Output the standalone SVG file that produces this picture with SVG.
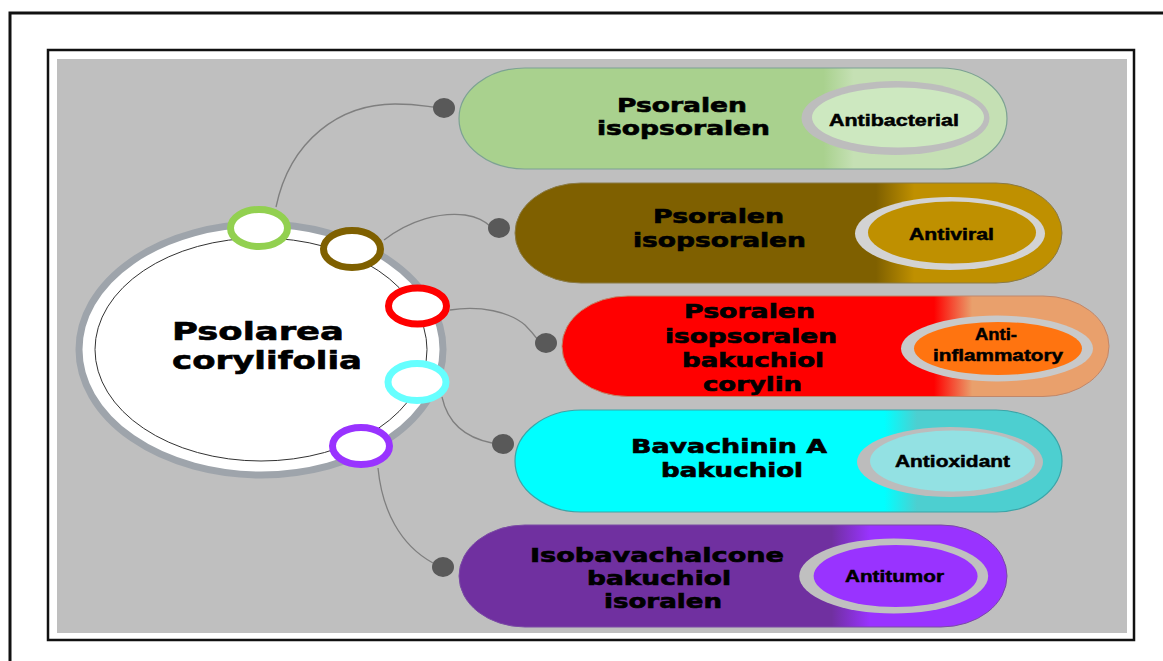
<svg xmlns="http://www.w3.org/2000/svg" width="1163" height="661" viewBox="0 0 1163 661">
<defs>
<linearGradient id="g1" x1="0" y1="0" x2="1" y2="0"><stop offset="0.665" stop-color="#a9d18e"/><stop offset="0.72" stop-color="#c5e0b4"/></linearGradient>
<linearGradient id="g2" x1="0" y1="0" x2="1" y2="0"><stop offset="0.66" stop-color="#7f6000"/><stop offset="0.73" stop-color="#bf9000"/></linearGradient>
<linearGradient id="g3" x1="0" y1="0" x2="1" y2="0"><stop offset="0.68" stop-color="#ff0000"/><stop offset="0.75" stop-color="#e9a06c"/></linearGradient>
<linearGradient id="g4" x1="0" y1="0" x2="1" y2="0"><stop offset="0.675" stop-color="#00ffff"/><stop offset="0.735" stop-color="#4dcfd0"/></linearGradient>
<linearGradient id="g5" x1="0" y1="0" x2="1" y2="0"><stop offset="0.68" stop-color="#7030a0"/><stop offset="0.75" stop-color="#9933ff"/></linearGradient>
</defs>
<style>
.frame{fill:none;stroke:#111;}
.ring{fill:#fff;stroke-width:7;}
.dot{fill:#595959;}
.conn{fill:none;stroke:#7f7f7f;stroke-width:1.3;}
.big{font-family:"DejaVu Sans","Liberation Sans",sans-serif;font-weight:bold;fill:#000;stroke:#000;stroke-width:0.6;}
.lab{font-family:"Liberation Sans",Arial,sans-serif;font-weight:bold;font-size:17px;fill:#000;stroke:#000;stroke-width:0.5;}
.pt{font-size:19px;}
</style>
<rect x="10" y="13" width="1170" height="670" class="frame" stroke-width="3"/>
<rect x="48" y="50" width="1086" height="590" class="frame" stroke-width="2.5"/>
<rect x="57" y="59" width="1070" height="574" fill="#bfbfbf"/>

<g id="connectors">
<path class="conn" d="M276,207 C290,140 340,104 395,104 C415,104 425,106 434,107"/>
<path class="conn" d="M384,240 C410,220 440,212 465,215 C478,217 484,221 490,226"/>
<path class="conn" d="M450,310 C480,305 510,312 525,325 C531,331 535,336 538,340"/>
<path class="conn" d="M442,397 C447,420 462,437 492,443"/>
<path class="conn" d="M378,468 C382,510 400,545 433,563"/>
<ellipse class="dot" cx="444" cy="108" rx="11" ry="10"/>
<ellipse class="dot" cx="499" cy="228" rx="11" ry="10"/>
<ellipse class="dot" cx="546" cy="343" rx="11" ry="10"/>
<ellipse class="dot" cx="503" cy="444" rx="11" ry="10"/>
<ellipse class="dot" cx="443" cy="567" rx="11" ry="10"/>
</g>

<g id="center">
<ellipse cx="261" cy="349.5" rx="182" ry="125.5" fill="#fff" stroke="#9ea4ab" stroke-width="7"/>
<ellipse cx="261" cy="349.5" rx="166" ry="111.5" fill="#fff" stroke="#333" stroke-width="1"/>
<text class="big" x="172" y="340" font-size="25" textLength="172" lengthAdjust="spacingAndGlyphs" stroke-width="1">Psolarea</text>
<text class="big" x="172" y="368.5" font-size="25" textLength="190" lengthAdjust="spacingAndGlyphs" stroke-width="1">corylifolia</text>
</g>

<g id="rings">
<ellipse class="ring" cx="259" cy="228" rx="28.5" ry="18.5" stroke="#92d050"/>
<ellipse class="ring" cx="352" cy="249" rx="28.5" ry="18.5" stroke="#7f6000"/>
<ellipse class="ring" cx="417.5" cy="306" rx="29" ry="18" stroke="#ff0000"/>
<ellipse class="ring" cx="417" cy="382" rx="29" ry="18.5" stroke="#66ffff"/>
<ellipse class="ring" cx="361" cy="446" rx="28.5" ry="18.5" stroke="#9933ff"/>
</g>

<g id="antibacterial">
<rect x="459" y="68" width="548" height="101" rx="66" ry="50.5" fill="url(#g1)" stroke="#7da293" stroke-width="1.2"/>
<ellipse cx="895.5" cy="118" rx="94" ry="37" fill="#bdbdbd"/>
<ellipse cx="898" cy="117.5" rx="86" ry="30" fill="#cde8c0"/>
<text class="big pt" x="617" y="112" textLength="130" lengthAdjust="spacingAndGlyphs">Psoralen</text>
<text class="big pt" x="597" y="135" textLength="173" lengthAdjust="spacingAndGlyphs">isopsoralen</text>
<text class="lab" x="829" y="125.5" textLength="130" lengthAdjust="spacingAndGlyphs">Antibacterial</text>
</g>

<g id="antiviral">
<rect x="515" y="183" width="547" height="100" rx="66" ry="50" fill="url(#g2)" stroke="#8a7a45" stroke-width="1"/>
<ellipse cx="950" cy="233.5" rx="95" ry="36.5" fill="#d3d3d3"/>
<ellipse cx="952" cy="232.5" rx="84" ry="31" fill="#bf9000"/>
<text class="big pt" x="653" y="222.7" textLength="131" lengthAdjust="spacingAndGlyphs">Psoralen</text>
<text class="big pt" x="633" y="246.7" textLength="173" lengthAdjust="spacingAndGlyphs">isopsoralen</text>
<text class="lab" x="909" y="239.5" textLength="85" lengthAdjust="spacingAndGlyphs">Antiviral</text>
</g>

<g id="antiinflammatory">
<rect x="562" y="296" width="547" height="100.5" rx="66" ry="50" fill="url(#g3)" stroke="#c0876a" stroke-width="1"/>
<ellipse cx="997" cy="348.5" rx="96" ry="33" fill="#c9c9c9"/>
<ellipse cx="998" cy="348.5" rx="84" ry="26.5" fill="#ff7410"/>
<text class="big pt" x="684" y="318.3" textLength="131" lengthAdjust="spacingAndGlyphs">Psoralen</text>
<text class="big pt" x="665" y="343" textLength="172" lengthAdjust="spacingAndGlyphs">isopsoralen</text>
<text class="big pt" x="682" y="366.7" textLength="142" lengthAdjust="spacingAndGlyphs">bakuchiol</text>
<text class="big pt" x="703" y="391.3" textLength="99" lengthAdjust="spacingAndGlyphs">corylin</text>
<text class="lab" x="975" y="340" textLength="42" lengthAdjust="spacingAndGlyphs">Anti-</text>
<text class="lab" x="933" y="361" textLength="130" lengthAdjust="spacingAndGlyphs">inflammatory</text>
</g>

<g id="antioxidant">
<rect x="515" y="410" width="547" height="102" rx="66" ry="51" fill="url(#g4)" stroke="#3aa5a8" stroke-width="1.2"/>
<ellipse cx="950" cy="462" rx="93" ry="35" fill="#bcbcbc"/>
<ellipse cx="952.5" cy="461" rx="82.5" ry="30.5" fill="#93e1e3"/>
<text class="big pt" x="631" y="453.3" textLength="196" lengthAdjust="spacingAndGlyphs">Bavachinin A</text>
<text class="big pt" x="661" y="476.7" textLength="142" lengthAdjust="spacingAndGlyphs">bakuchiol</text>
<text class="lab" x="895" y="467" textLength="115" lengthAdjust="spacingAndGlyphs">Antioxidant</text>
</g>

<g id="antitumor">
<rect x="459" y="525" width="548" height="102" rx="66" ry="51" fill="url(#g5)" stroke="#7a4aa5" stroke-width="1"/>
<ellipse cx="893.7" cy="576" rx="94.5" ry="37.5" fill="#c0c0c0"/>
<ellipse cx="895.6" cy="576" rx="82" ry="31" fill="#9933ff"/>
<text class="big pt" x="530" y="561.7" textLength="254" lengthAdjust="spacingAndGlyphs">Isobavachalcone</text>
<text class="big pt" x="587" y="585" textLength="144" lengthAdjust="spacingAndGlyphs">bakuchiol</text>
<text class="big pt" x="604" y="608.3" textLength="118" lengthAdjust="spacingAndGlyphs">isoralen</text>
<text class="lab" x="845" y="582" textLength="99" lengthAdjust="spacingAndGlyphs">Antitumor</text>
</g>
</svg>
